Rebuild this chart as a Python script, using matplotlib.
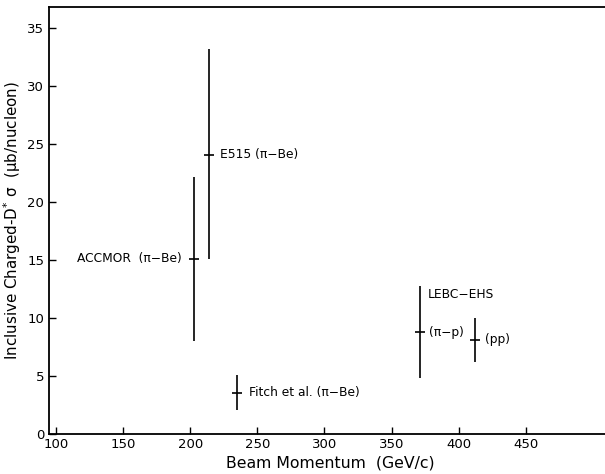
import matplotlib
matplotlib.use("Agg")
import matplotlib.pyplot as plt

# Data
labels = ["ACCMOR  (\u03c0\u2212Be)", "E515 (\u03c0\u2212Be)", "Fitch et al. (\u03c0\u2212Be)", "(\u03c0\u2212p)", "(pp)"]
momentum = [203, 214, 235, 371, 412]
sigma = [15.1, 24.1, 3.55, 8.8, 8.15]
err_low = [7.05, 9.0, 1.45, 4.0, 1.9]
err_high = [7.1, 9.1, 1.5, 4.0, 1.9]
xticks = [100, 150, 200, 250, 300, 350, 400, 450]
yticks = [0, 5, 10, 15, 20, 25, 30, 35]

plt.rcParams['font.family'] = ['DejaVu Sans']
fig = plt.figure(figsize=(6.05, 4.74), dpi=100)
ax = fig.add_axes([49/605, 40/474, 1 - 49/605 + 0.01, 427/474])

ax.errorbar(momentum, sigma, yerr=[err_low, err_high], fmt='none',
            ecolor='black', elinewidth=1.2, capsize=0)
ax.plot(momentum, sigma, linestyle='none', marker='_', markersize=7,
        markeredgewidth=1.2, color='black')

offsets = [(-13, 0, 'right'), (11, 0, 'left'), (12, 0, 'left'), (9, 0, 'left'), (10, 0, 'left')]
for lab, x, y, (dx, dy, ha) in zip(labels, momentum, sigma, offsets):
    ax.annotate(lab, (x, y), xytext=(dx, dy), textcoords='offset pixels',
                ha=ha, va='center', fontsize=8.8)
ax.annotate("LEBC\u2212EHS", (momentum[3], sigma[3]), xytext=(8, 38),
            textcoords='offset pixels', ha='left', va='center', fontsize=8.8)

ax.set_xlim(94.6, 509.2 + 0.01 * 605 / 1.3413)
ax.set_ylim(0, 36.84)
ax.set_xticks(xticks)
ax.set_yticks(yticks)
ax.tick_params(direction='in', length=5, width=1.0, labelsize=9.5)
ax.tick_params(axis='x', pad=3)
ax.spines['right'].set_visible(False)
for s in ['left', 'top', 'bottom']:
    ax.spines[s].set_linewidth(1.3)

ax.set_xlabel("Beam Momentum  (GeV/c)", fontsize=11.3, labelpad=3)
ax.set_ylabel("Inclusive Charged-D$^{*}$ \u03c3  (\u03bcb/nucleon)", fontsize=10.9, labelpad=3)

fig.savefig("out.png", dpi=100)
